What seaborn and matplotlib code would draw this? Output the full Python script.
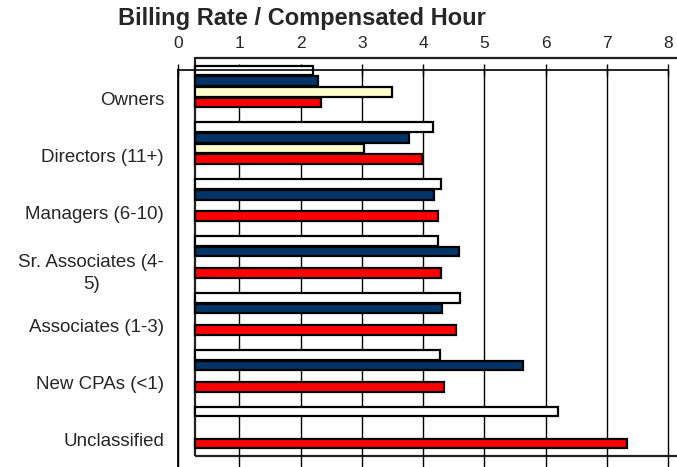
import matplotlib
matplotlib.use("Agg")
import matplotlib.pyplot as plt
from matplotlib.patches import Rectangle
from matplotlib.transforms import ScaledTranslation
import numpy as np
import pandas as pd
import seaborn as sns

# ---- data ----
categories = ["Owners", "Directors (11+)", "Managers (6-10)", "Sr. Associates (4-\n5)",
              "Associates (1-3)", "New CPAs (<1)", "Unclassified"]
series_names = ["Series 1", "Series 2", "Series 3", "Series 4"]
series_1 = [1.93, 3.89, 4.01, 3.96, 4.33, 4.00, 5.92]
series_2 = [2.00, 3.49, 3.90, 4.31, 4.03, 5.36, np.nan]
series_3 = [3.22, 2.76, np.nan, np.nan, np.nan, np.nan, np.nan]
series_4 = [2.06, 3.71, 3.97, 4.02, 4.26, 4.07, 7.06]
colors = ["#FFFFFF", "#003366", "#FFFFCC", "#FF0000"]

rows = []
for name, vals in zip(series_names, [series_1, series_2, series_3, series_4]):
    for cat, v in zip(categories, vals):
        rows.append({"Category": cat, "Series": name, "Value": v})
df = pd.DataFrame(rows)

sns.set_style("white")
plt.rcParams["font.family"] = ["Liberation Sans", "DejaVu Sans"]

fig = plt.figure(figsize=(6.77, 4.67), dpi=100)
ax = fig.add_axes([178 / 677, -1 / 467, 490 / 677, 398 / 467])

sns.barplot(data=df, y="Category", x="Value", hue="Series", order=categories,
            hue_order=series_names, palette=colors, orient="h", width=0.75, gap=0.1,
            edgecolor="black", linewidth=1.6, saturation=1, legend=False, ax=ax,
            errorbar=None)

# 3-D style depth offset: bars and plot-area box sit up and to the right
offset = ScaledTranslation(17 / 100, 12 / 100, fig.dpi_scale_trans)
for p in ax.patches:
    p.set_transform(ax.transData + offset)
    p.set_clip_on(False)

box = Rectangle((0, 0), 1, 1, transform=ax.transAxes + offset, fill=False,
                edgecolor="#222222", linewidth=1.6, clip_on=False, zorder=0.5)
ax.add_patch(box)

ax.set_xlim(0, 8)
ax.set_ylim(len(categories) - 0.5, -0.5)
ax.set_xticks(range(0, 9))
ax.xaxis.tick_top()
ax.tick_params(axis="x", direction="inout", length=9, width=1, color="black",
               labelsize=12.5, pad=9.5)
ax.xaxis.grid(True, color="black", linewidth=1)
for gl in ax.get_xgridlines():
    gl.set_clip_on(False)
ax.set_axisbelow(True)

ax.set_yticks(range(len(categories)))
ax.set_yticklabels(categories)
ax.set_yticks(np.arange(0.5, len(categories), 1), minor=True)
ax.tick_params(axis="y", which="major", length=0, labelsize=13.5, pad=10)
ax.tick_params(axis="y", which="minor", direction="out", length=5, width=1, color="black")
for lbl in ax.get_yticklabels():
    lbl.set_multialignment("center")
    lbl.set_linespacing(1.4)

ax.set_xlabel("")
ax.set_ylabel("")
for side in ["right", "bottom"]:
    ax.spines[side].set_visible(False)
for side in ["top", "left"]:
    ax.spines[side].set_color("black")
    ax.spines[side].set_linewidth(1.2)

fig.text(302 / 677, 1 - 18 / 467, "Billing Rate / Compensated Hour", ha="center",
         va="center", fontsize=17, fontweight="bold")

fig.savefig("out.png", dpi=100)
